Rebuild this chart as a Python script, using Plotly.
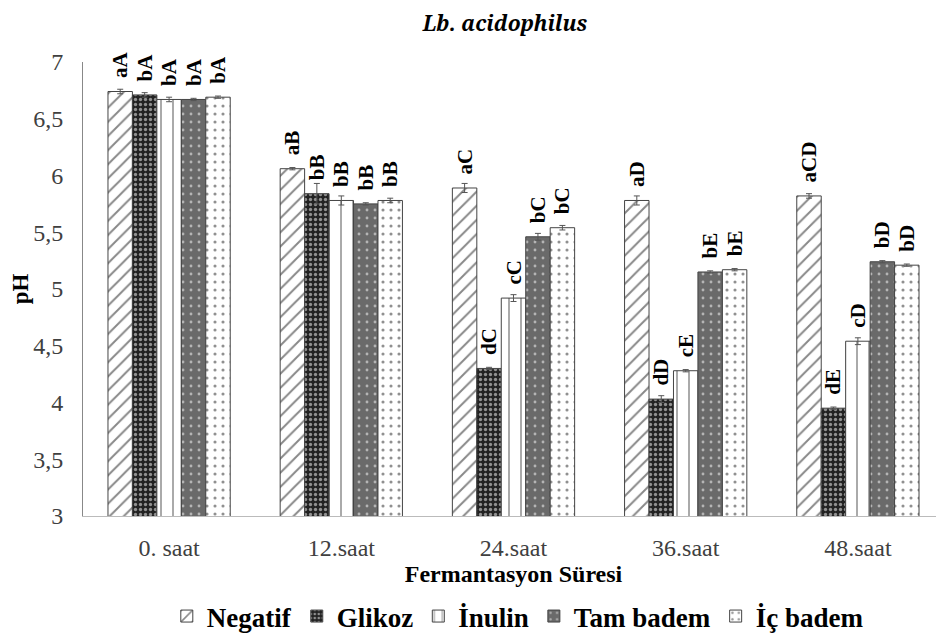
import plotly.graph_objects as go

times = ["0. saat", "12.saat", "24.saat", "36.saat", "48.saat"]

negatif = [6.74, 6.06, 5.89, 5.78, 5.82]
glikoz = [6.71, 5.84, 4.30, 4.03, 3.95]
inulin = [6.67, 5.78, 4.92, 4.28, 4.54]
tam_badem = [6.67, 5.75, 5.46, 5.15, 5.24]
ic_badem = [6.69, 5.78, 5.54, 5.17, 5.21]

negatif_err = [0.02, 0.01, 0.04, 0.04, 0.02]
glikoz_err = [0.02, 0.09, 0.01, 0.03, 0.01]
inulin_err = [0.02, 0.04, 0.03, 0.01, 0.03]
tam_badem_err = [0.01, 0.01, 0.03, 0.01, 0.01]
ic_badem_err = [0.01, 0.02, 0.02, 0.01, 0.01]

negatif_lbl = ["aA", "aB", "aC", "aD", "aCD"]
glikoz_lbl = ["bA", "bB", "dC", "dD", "dE"]
inulin_lbl = ["bA", "bB", "cC", "cE", "cD"]
tam_badem_lbl = ["bA", "bB", "bC", "bE", "bD"]
ic_badem_lbl = ["bA", "bB", "bC", "bE", "bD"]

series = [
    ("Negatif", negatif, negatif_err, negatif_lbl,
     dict(shape="/", fgcolor="#111", bgcolor="white", size=10, solidity=0.2)),
    ("Glikoz", glikoz, glikoz_err, glikoz_lbl,
     dict(shape=".", fgcolor="white", bgcolor="#222", size=5, solidity=0.35)),
    ("İnulin", inulin, inulin_err, inulin_lbl,
     dict(shape="|", fgcolor="#111", bgcolor="white", size=12, solidity=0.12)),
    ("Tam badem", tam_badem, tam_badem_err, tam_badem_lbl,
     dict(shape=".", fgcolor="white", bgcolor="#6a6a6a", size=8, solidity=0.1)),
    ("İç badem", ic_badem, ic_badem_err, ic_badem_lbl,
     dict(shape=".", fgcolor="#222", bgcolor="white", size=8, solidity=0.12)),
]

serif = "serif"

fig = go.Figure()
for name, vals, errs, lbls, pat in series:
    fig.add_trace(go.Bar(
        name=f"<b>{name}</b>", x=times, y=vals,
        marker=dict(pattern=pat, line=dict(color="#444", width=1)),
        error_y=dict(type="data", array=errs, color="#555", thickness=1, width=3),
        text=[f"\u00a0\u00a0<b>{t}</b>" for t in lbls],
        textposition="outside", textangle=-90,
        textfont=dict(family=serif, size=21, color="black"),
        cliponaxis=False,
    ))

# the page adds an 8px body margin, so the figure is 8px smaller than the window
fig.update_layout(
    width=936, height=633,
    margin=dict(l=75, r=0, t=54, b=123),
    plot_bgcolor="white", paper_bgcolor="white",
    barmode="group", bargap=0.29, bargroupgap=0,
    separators=", ",
    font=dict(family=serif, size=24, color="#404040"),
    title=dict(text="<b><i>Lb. acidophilus</i></b>", x=0.531, xanchor="center",
               y=0.975, yanchor="middle", font=dict(family="Noto Serif", size=21, color="black")),
    legend=dict(orientation="h", x=0.505, xanchor="center", y=-0.222, yanchor="middle",
                font=dict(family=serif, size=27, color="black"), itemwidth=30,
                traceorder="normal"),
    uniformtext=dict(minsize=21, mode="show"),
)
fig.update_yaxes(range=[3, 7], dtick=0.5, showgrid=False, showline=True,
                 linecolor="#888", linewidth=1, ticks="", zeroline=False,
                 ticklabelstandoff=14, tickfont=dict(family=serif, size=24, color="#404040"),
                 title=dict(text="<b>pH</b>", font=dict(family=serif, size=23, color="black"),
                            standoff=4))
fig.update_xaxes(showline=True, linecolor="#bbb", linewidth=1, ticks="",
                 ticklabelstandoff=10, tickfont=dict(family=serif, size=24, color="#404040"),
                 title=dict(text="<b>Fermantasyon Süresi</b>",
                            font=dict(family=serif, size=24, color="black"), standoff=2))

fig.write_html("out.html")
